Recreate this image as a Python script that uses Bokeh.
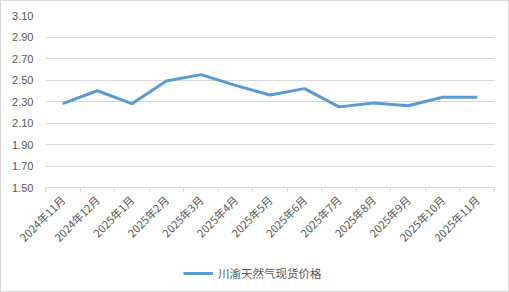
import math
from bokeh.plotting import figure
from bokeh.layouts import column
from bokeh.models import FixedTicker, Legend, LegendItem, ColumnDataSource, NumeralTickFormatter
from bokeh.embed import file_html
from bokeh.resources import INLINE

months = ["2024年11月", "2024年12月", "2025年1月", "2025年2月", "2025年3月", "2025年4月",
          "2025年5月", "2025年6月", "2025年7月", "2025年8月", "2025年9月", "2025年10月", "2025年11月"]
prices = [2.28, 2.40, 2.28, 2.49, 2.55, 2.45, 2.36, 2.42, 2.25, 2.285, 2.26, 2.34, 2.34]
series_name = "川渝天然气现货价格"
y_ticks = [1.5, 1.7, 1.9, 2.1, 2.3, 2.5, 2.7, 2.9, 3.1]

LINE_COLOR = "#5B9BD5"
TEXT_COLOR = "#595959"
GRID_COLOR = "#d9d9d9"

xs = [i + 0.5 for i in range(len(months))]
src = ColumnDataSource(dict(x=xs, y=prices, m=months))

p = figure(width=507, height=252, output_backend="svg", toolbar_location=None,
           x_range=(0, len(months)), y_range=(1.5, 3.1),
           min_border_left=44, min_border_right=14, min_border_top=14, min_border_bottom=10)
p.outline_line_color = None
p.background_fill_color = "white"
p.border_fill_color = "white"

r = p.line("x", "y", source=src, line_color=LINE_COLOR, line_width=3)

p.xaxis.ticker = FixedTicker(ticks=xs, minor_ticks=list(range(len(months) + 1)))
p.xaxis.major_label_overrides = {x: m for x, m in zip(xs, months)}
p.xaxis.major_label_orientation = math.pi / 4
p.xaxis.major_tick_line_color = None
p.xaxis.minor_tick_line_color = GRID_COLOR
p.xaxis.minor_tick_out = 4
p.xaxis.minor_tick_in = 0
p.xaxis.axis_line_color = GRID_COLOR
p.xaxis.major_label_text_font = "Noto Sans CJK SC"
p.xaxis.major_label_text_font_size = "11px"
p.xaxis.major_label_text_color = TEXT_COLOR
p.xaxis.major_label_standoff = 4
p.xgrid.grid_line_color = None

p.yaxis.ticker = FixedTicker(ticks=y_ticks)
p.yaxis.formatter = NumeralTickFormatter(format="0.00")
p.yaxis.axis_line_color = None
p.yaxis.major_tick_line_color = None
p.yaxis.minor_tick_line_color = None
p.yaxis.major_label_text_font = "Liberation Sans"
p.yaxis.major_label_text_font_size = "11px"
p.yaxis.major_label_text_color = TEXT_COLOR
p.yaxis.major_label_standoff = 6
p.ygrid.ticker = FixedTicker(ticks=y_ticks)
p.ygrid.grid_line_color = GRID_COLOR

# legend strip (its line sits outside the visible range; only the legend shows)
p2 = figure(width=507, height=38, output_backend="svg", toolbar_location=None,
            x_range=(0, 1), y_range=(0, 1),
            min_border_left=0, min_border_right=0, min_border_top=0, min_border_bottom=0,
            x_axis_location=None, y_axis_location=None)
p2.outline_line_color = None
p2.grid.visible = False
p2.border_fill_color = "white"
p2.background_fill_color = "white"
r2 = p2.line(x=[0, 1], y=[-5, -5], line_color=LINE_COLOR, line_width=3)
legend = Legend(items=[LegendItem(label=series_name, renderers=[r2])],
                location=(138, 8), orientation="horizontal",
                label_text_font="Noto Sans CJK SC", label_text_font_size="11.5px",
                label_text_color=TEXT_COLOR, border_line_color=None,
                background_fill_alpha=0,
                glyph_width=30, label_standoff=5, padding=4, margin=0)
p2.add_layout(legend, "center")

layout = column(p, p2, spacing=0)
layout.styles = {"border": "1px solid #d9d9d9"}

open("out.html", "w").write(file_html(layout, INLINE))
